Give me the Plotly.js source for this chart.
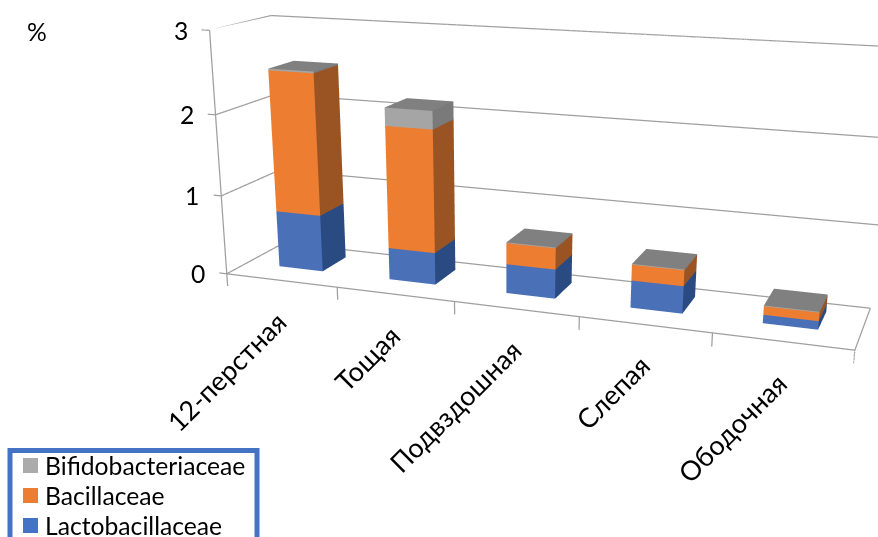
<!DOCTYPE html>
<html>
<head>
<meta charset="utf-8">
<script src="https://cdn.plot.ly/plotly-3.0.1.min.js"></script>
<style>
  html, body { margin: 0; padding: 0; width: 878px; height: 537px; overflow: hidden; background: #fff; }
  #chart { position: absolute; left: -71px; top: -243px; width: 1142px; height: 1142px; }
</style>
</head>
<body>
<div id="chart"></div>
<script>
// Microbial family shares along the gut sections, %
const categories = ['12-перстная', 'Тощая', 'Подвздошная', 'Слепая', 'Ободочная'];
const lactobacillaceae = [0.72, 0.40, 0.36, 0.33, 0.10];
const bacillaceae = [1.76, 1.51, 0.26, 0.19, 0.10];
const bifidobacteriaceae = [0.02, 0.22, 0.01, 0.01, 0.01];
const valueTicks = [0, 1, 2, 3];

const seriesList = [
  { name: 'Lactobacillaceae', values: lactobacillaceae, front: '#4A71B8', side: '#2A4A82', swatch: '#4472C4' },
  { name: 'Bacillaceae', values: bacillaceae, front: '#ED7D31', side: '#9A5322', swatch: '#ED7D31' },
  { name: 'Bifidobacteriaceae', values: bifidobacteriaceae, front: '#A5A5A5', side: '#7A7A7A', swatch: '#ABABAB' }
];

const TOP_COLOR = '#808080';
const FONT = 'Lato, Carlito, "Open Sans", sans-serif';
const TEXT_SIZE = 24.7;
const BAR_WIDTH = 0.4, DEPTH_FROM = 0.35, DEPTH_TO = 0.79;
const GRID = '#9f9f9f';
const LINE_WIDTH = 2.5;

// One mesh per series: each stacked segment is a box sitting on the previous one
function stackedMeshes() {
  const base = categories.map(() => 0);
  return seriesList.map((s, si) => {
    const m = { x: [], y: [], z: [], i: [], j: [], k: [], facecolor: [] };
    s.values.forEach((v, c) => {
      const x0 = c + 0.5 - BAR_WIDTH / 2, x1 = c + 0.5 + BAR_WIDTH / 2;
      const z0 = base[c], z1 = base[c] + v;
      base[c] = z1;
      const n = m.x.length;
      [[x0, DEPTH_FROM, z0], [x1, DEPTH_FROM, z0], [x1, DEPTH_TO, z0], [x0, DEPTH_TO, z0],
       [x0, DEPTH_FROM, z1], [x1, DEPTH_FROM, z1], [x1, DEPTH_TO, z1], [x0, DEPTH_TO, z1]]
        .forEach(p => { m.x.push(p[0]); m.y.push(p[1]); m.z.push(p[2]); });
      const quad = (a, b, d, e, col) => {
        m.i.push(n + a, n + a); m.j.push(n + b, n + d); m.k.push(n + d, n + e);
        m.facecolor.push(col, col);
      };
      quad(0, 1, 5, 4, s.front);
      quad(1, 2, 6, 5, s.side);
      if (si === seriesList.length - 1) quad(4, 5, 6, 7, TOP_COLOR);
    });
    return {
      type: 'mesh3d', name: s.name, showlegend: false, hoverinfo: 'skip',
      flatshading: true,
      lighting: { ambient: 1, diffuse: 0, specular: 0, fresnel: 0, roughness: 1 },
      x: m.x, y: m.y, z: m.z, i: m.i, j: m.j, k: m.k, facecolor: m.facecolor
    };
  });
}

const n = categories.length, zMax = valueTicks[valueTicks.length - 1];
const X_TICK_DROP = 0.16, Z_TICK_REACH = 0.07;

// The axis box leaves a little room below the floor and left of the wall for tick marks
const X_PAD = 0.2, Z_PAD = 0.3;

// Walls, floor edges and tick marks, all as 3D polylines in data coordinates
const edges = [
  { x: [0, n], y: [0, 0], z: [0, 0] },
  { x: [n, n], y: [0, 1], z: [0, 0] },
  { x: [0, 0], y: [0, 0], z: [0, zMax] }
];
valueTicks.forEach(v => {
  edges.push({ x: [0, 0, n], y: [0, 1, 1], z: [v, v, v] });
  edges.push({ x: [-Z_TICK_REACH, 0], y: [0, 0], z: [v, v] });
});
for (let i = 0; i <= n; i++) edges.push({ x: [i, i], y: [0, 0], z: [-X_TICK_DROP, 0] });

const frameTraces = edges.map(e => Object.assign({
  type: 'scatter3d', mode: 'lines', showlegend: false, hoverinfo: 'skip',
  line: { color: GRID, width: LINE_WIDTH }
}, e));

const hiddenAxis = {
  showgrid: false, zeroline: false, showline: false, showspikes: false,
  showbackground: false, showticklabels: false, ticks: '', title: { text: '' }
};

const W = 1142, H = 1142, LEFT = 71, TOP = 243;
const px = x => (x + LEFT) / W;
const py = y => 1 - (y + TOP) / H;

// Legend box with the series keys, listed top to bottom
const LEGEND_ROW = 30, LEGEND_FIRST = 465.5;
const legendRows = seriesList.slice().reverse();
const legendShapes = [{
  type: 'rect', xref: 'paper', yref: 'paper', x0: px(10), x1: px(257), y0: py(450.5), y1: py(600),
  line: { color: '#4472C4', width: 5 }, fillcolor: '#fff'
}].concat(legendRows.map((s, r) => ({
  type: 'rect', xref: 'paper', yref: 'paper',
  x0: px(23), x1: px(38),
  y0: py(LEGEND_FIRST + r * LEGEND_ROW - 7.5), y1: py(LEGEND_FIRST + r * LEGEND_ROW + 7.5),
  line: { width: 0 }, fillcolor: s.swatch
})));
const legendLabels = legendRows.map((s, r) => ({
  xref: 'paper', yref: 'paper', x: px(43), y: py(LEGEND_FIRST + r * LEGEND_ROW),
  xanchor: 'left', yanchor: 'middle', text: s.name, showarrow: false,
  font: { family: FONT, size: TEXT_SIZE, color: '#000' }
}));

const ASPECT = { x: 1.472 * (n + X_PAD) / n, y: 0.28, z: 0.575 * (zMax + Z_PAD) / zMax };
const SHIFT_X = 1.472 * X_PAD / n / 2, SHIFT_Z = 0.575 * Z_PAD / zMax / 2;

const layout = {
  width: W, height: H,
  margin: { l: 0, r: 0, t: 0, b: 0 },
  paper_bgcolor: '#fff',
  font: { family: FONT, color: '#000' },
  showlegend: false,
  hovermode: false,
  shapes: legendShapes,
  annotations: [{
    xref: 'paper', yref: 'paper', x: px(37), y: py(31), xanchor: 'center', yanchor: 'middle',
    text: '%', showarrow: false, font: { family: FONT, size: TEXT_SIZE, color: '#000' }
  }].concat(legendLabels),
  scene: {
    domain: { x: [0, 1], y: [0, 1] },
    aspectmode: 'manual',
    aspectratio: ASPECT,
    camera: {
      eye: { x: 0.978 + SHIFT_X, y: -2.86, z: 0.7125 + SHIFT_Z },
      center: { x: -0.0366 + SHIFT_X, y: -0.143, z: -0.336 + SHIFT_Z },
      up: { x: 0, y: 0, z: 1 },
      projection: { type: 'perspective' }
    },
    dragmode: false,
    xaxis: Object.assign({}, hiddenAxis, { range: [-X_PAD, n] }),
    yaxis: Object.assign({}, hiddenAxis, { range: [0, 1] }),
    zaxis: Object.assign({}, hiddenAxis, { range: [-Z_PAD, zMax] }),
    annotations: categories.map((c, i) => ({
      x: i + 0.5, y: 0, z: 0, text: c, showarrow: false, textangle: -45,
      xanchor: 'right', yanchor: 'top', yshift: -22, xshift: 14,
      font: { family: FONT, size: 27, color: '#000' }
    })).concat(valueTicks.map(v => ({
      x: 0, y: 0, z: v, text: String(v), showarrow: false,
      xanchor: 'right', yanchor: 'middle', xshift: -20,
      font: { family: FONT, size: TEXT_SIZE, color: '#000' }
    })))
  }
};

Plotly.newPlot('chart', stackedMeshes().concat(frameTraces), layout, { displayModeBar: false });
</script>
</body>
</html>
